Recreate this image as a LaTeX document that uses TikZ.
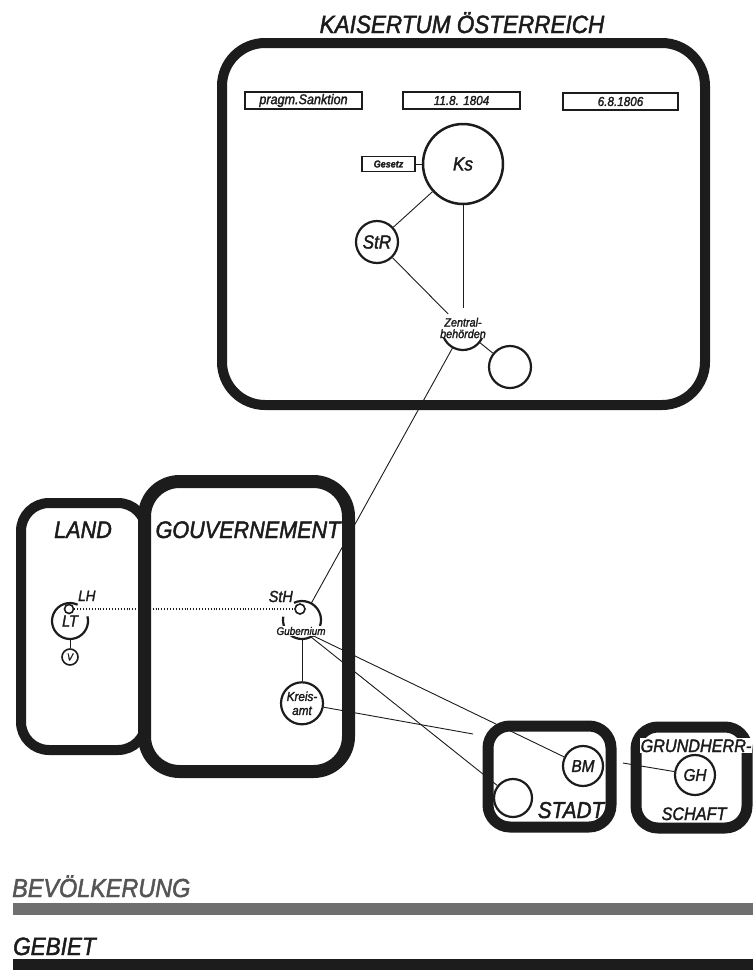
\documentclass[tikz,border=0pt]{standalone}
\usepackage{fontspec}
\setmainfont{Liberation Sans}[FakeStretch=0.9, FakeBold=1.8]
\usetikzlibrary{positioning}
\definecolor{ink}{HTML}{1C1C1C}
\definecolor{band}{HTML}{6F6F6F}
\definecolor{faded}{HTML}{555555}
\newcommand\pxfont[1]{\fontsize{#1}{#1}\selectfont}
\tikzset{
  realm/.style={draw=ink, fill=white, inner sep=0pt},
  realmlabel/.style={font=\pxfont{24}\itshape, text=ink, anchor=base},
  organ/.style={circle, draw=ink, line width=2.2pt, inner sep=0pt, text=ink},
  hollow/.style={circle, inner sep=0pt, text=ink},
  arcline/.style={draw=ink, line width=2.2pt},
  tag/.style={draw=ink, line width=1.3pt, inner sep=0pt, text=ink},
  link/.style={draw=ink, line width=0.9pt},
  organlabel/.style={font=\pxfont{#1}\itshape, text=ink},
  organlabel/.default=17,
}

\begin{document}
\begin{tikzpicture}[x=1pt, y=1pt, font=\itshape]
\useasboundingbox (0,0) rectangle (753,-970);

% -----------------------------------------------------------------------------
% Kaisertum
% -----------------------------------------------------------------------------
\node[realm, line width=10pt, rounded corners=43pt, minimum width=483pt, minimum height=362pt] (reich) at (463.5,-224) {};
\node[realmlabel, font=\pxfont{25}\itshape] (reichlabel) at (462,-33) {KAISERTUM ÖSTERREICH};

\node[tag, minimum width=117pt, minimum height=17pt, font=\pxfont{14}\itshape] (sanktion) at (303.5,-100.5) {pragm.Sanktion};
\node[tag, minimum width=117pt, minimum height=17pt, font=\pxfont{13}\itshape] (d1804) at (461.5,-100.5) {11.8. 1804};
\node[tag, minimum width=115pt, minimum height=17pt, font=\pxfont{13}\itshape] (d1806) at (620.5,-101.5) {6.8.1806};

\node[organ, line width=2.5pt, minimum size=80pt, font=\pxfont{19}\itshape] (ks) at (463,-164) {Ks};
\node[tag, minimum width=53pt, minimum height=15pt, font=\pxfont{10}\itshape\bfseries] (gesetz) at (388.5,-164) {Gesetz};
\node[organ, minimum size=42pt, font=\pxfont{19}\itshape] (str) at (377,-242) {StR};
\node[hollow, minimum size=42pt] (zb) at (463,-329) {};
\node[organ, minimum size=42pt] (leer) at (510,-367) {};

\draw[arcline] (zb.center) ++(-25:21) arc[start angle=-25, end angle=-155, radius=21];
\node[align=center, inner sep=0pt, text=ink, font=\fontsize{12}{11.5}\selectfont\itshape] (zblabel) at (463,-328) {Zentral-\\behörden};

\draw[link] (gesetz) -- (ks);
\draw[link] (ks) -- (str);
\draw[link] (ks) -- (zb);
\draw[link] (str) -- (zb);
\draw[link] (zb) -- (leer);

% -----------------------------------------------------------------------------
% Land and Gouvernement
% -----------------------------------------------------------------------------
\node[realm, line width=10pt, rounded corners=28pt, minimum width=125pt, minimum height=247pt] (land) at (83.5,-626.5) {};
\node[realm, line width=13pt, rounded corners=35pt, minimum width=204pt, minimum height=290pt] (gouv) at (246.5,-626.5) {};
\node[realmlabel] (landlabel) at (83,-538) {LAND};
\node[realmlabel] (gouvlabel) at (248,-538) {GOUVERNEMENT};

% Landtag
\node[hollow, minimum size=36pt, font=\pxfont{16}\itshape] (lt) at (70,-621) {\raisebox{-2pt}{LT}};
\draw[arcline] (lt.center) ++(65:18) arc[start angle=65, end angle=375, radius=18];
\node[organ, line width=1.6pt, minimum size=9pt] (lh) at (69,-609) {};
\node[organlabel=15, anchor=base west, inner sep=0pt] (lhlabel) at (78,-601) {LH};
\node[organ, line width=1.6pt, minimum size=16pt, font=\pxfont{10}\itshape, below=9pt of lt] (v) {V};
\draw[link] (lt) -- (v);

% Statthalter / Gubernium
\node[hollow, minimum size=38pt] (sth) at (302,-620) {};
\draw[arcline] (sth.center) ++(115:19) arc[start angle=115, end angle=-190, radius=19];
\node[organ, line width=1.6pt, minimum size=10pt] (sthc) at (300,-609) {};
\node[organlabel=16, anchor=base east, inner sep=0pt] (sthlabel) at (293,-602) {StH};
\node[organ, minimum size=42pt, align=center, font=\fontsize{13}{14}\selectfont\itshape, below=42pt of sth] (ka) {Kreis-\\amt};

\draw[link, dotted, line width=1.6pt] (lh) -- (sthc);
\draw[link] (zb) -- (sth);
\draw[link] (sth) -- (ka);

% -----------------------------------------------------------------------------
% Stadt and Grundherrschaft
% -----------------------------------------------------------------------------
\node[realm, line width=11pt, rounded corners=22pt, minimum width=123pt, minimum height=101pt] (stadt) at (549.5,-776.5) {};
\node[realm, line width=11pt, rounded corners=22pt, minimum width=111pt, minimum height=101pt] (herr) at (691.5,-777.5) {};
\node[realmlabel, font=\pxfont{23}\itshape] (stadtlabel) at (571,-818) {STADT};
\node[realmlabel, font=\pxfont{18}\itshape, fill=white, inner sep=1pt] (herrlabel) at (696,-752) {GRUNDHERR-};
\node[realmlabel, font=\pxfont{18}\itshape] (schaftlabel) at (694,-820) {SCHAFT};

\node[organ, minimum size=40pt, font=\pxfont{17}\itshape] (bm) at (583,-766) {BM};
\node[organ, minimum size=38pt] (stc) at (513,-798) {};
\node[organ, minimum size=40pt, font=\pxfont{17}\itshape] (gh) at (695,-775) {GH};

\coordinate (kaend) at (473,-734);
\coordinate (ghend) at (623,-763);
\draw[link] (sth.-55) -- (bm);
\draw[link] (sth.-62) -- (stc);
\draw[link] (ka) -- (kaend);
\draw[link] (ghend) -- (gh);

\node[organlabel=11, fill=white, inner sep=0.5pt] (gublabel) at (301,-631) {Gubernium};

% -----------------------------------------------------------------------------
% Bevoelkerung and Gebiet
% -----------------------------------------------------------------------------
\node[font=\pxfont{26}\itshape, text=faded, anchor=base west, inner sep=0pt] (bevlabel) at (12,-897) {BEVÖLKERUNG};
\fill[band] (13,-903) rectangle (753,-915);
\node[font=\pxfont{25}\itshape, text=ink, anchor=base west, inner sep=0pt] (gebietlabel) at (13,-955) {GEBIET};
\fill[ink] (13,-959) rectangle (753,-970);

\end{tikzpicture}
\end{document}
